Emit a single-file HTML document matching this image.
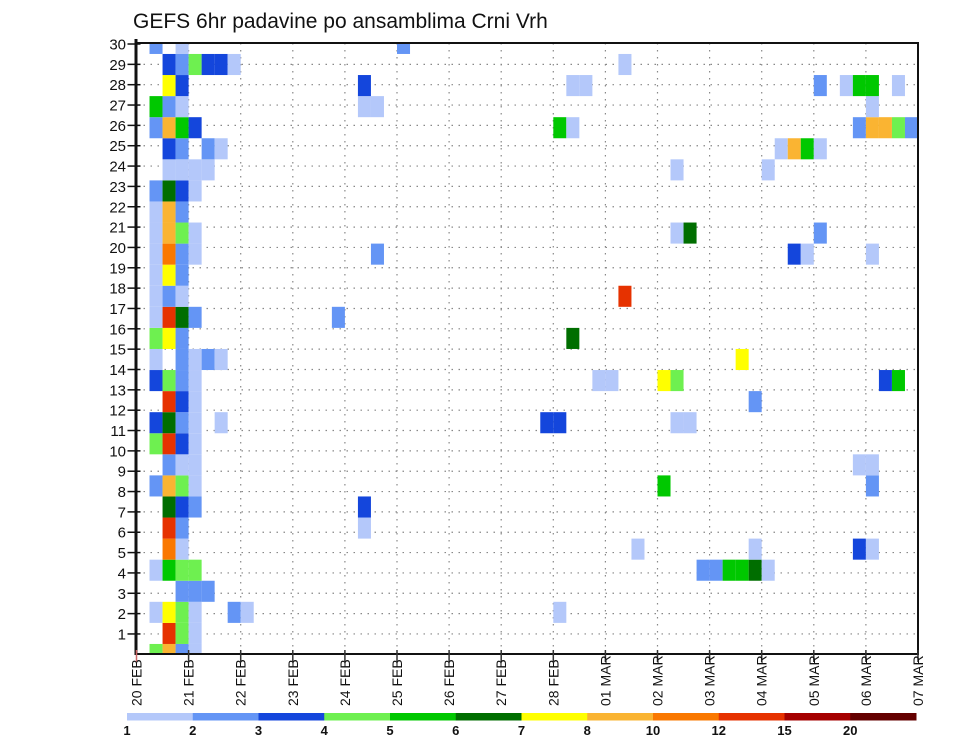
<!DOCTYPE html>
<html><head><meta charset="utf-8">
<style>
html,body{margin:0;padding:0;background:#fff;}
svg{display:block;font-family:"Liberation Sans",sans-serif;}
</style></head>
<body>
<svg id="chart" width="960" height="742" viewBox="0 0 960 742" xmlns="http://www.w3.org/2000/svg">
  <rect x="0" y="0" width="960" height="742" fill="#fff"/>
  <text x="133" y="28" font-size="21" fill="#111">GEFS 6hr padavine po ansamblima Crni Vrh</text>
  <g id="grid"></g>
  <g id="cells"></g>
  <g id="axes"></g>
  <g id="colorbar"></g>
</svg>
<script>
// ---- data ----
const dayLabels = ["20 FEB","21 FEB","22 FEB","23 FEB","24 FEB","25 FEB","26 FEB","27 FEB","28 FEB","01 MAR","02 MAR","03 MAR","04 MAR","05 MAR","06 MAR","07 MAR"];
const yTickLabels = [1,2,3,4,5,6,7,8,9,10,11,12,13,14,15,16,17,18,19,20,21,22,23,24,25,26,27,28,29,30];
const levels = [1,2,3,4,5,6,7,8,10,12,15,20];
const levelColors = ["#b4c8fa","#6495f5","#1446dc","#6ef050","#00c800","#006e00","#ffff00","#fab432","#fa7800","#e63200","#a50000","#640000"];
// member index (bottom=0), 6-hr step index, precip (mm)
const cellMember = [];
const cellStep = [];
const cellValue = [];
const rows = [
 [0,[[1,4.5],[2,9],[3,2.5],[4,1.5]]],
 [1,[[2,13.5],[3,4.5],[4,1.5]]],
 [2,[[1,1.5],[2,7.5],[3,4.5],[4,1.5],[7,2.5],[8,1.5],[32,1.5]]],
 [3,[[3,2.5],[4,2.5],[5,2.5]]],
 [4,[[1,1.5],[2,5.5],[3,4.5],[4,4.5],[43,2.5],[44,2.5],[45,5.5],[46,5.5],[47,6.5],[48,1.5]]],
 [5,[[2,11],[3,1.5],[38,1.5],[47,1.5],[55,3.5],[56,1.5]]],
 [6,[[2,13.5],[3,2.5],[17,1.5]]],
 [7,[[2,6.5],[3,3.5],[4,2.5],[17,3.5]]],
 [8,[[1,2.5],[2,9],[3,4.5],[4,1.5],[40,5.5],[56,2.5]]],
 [9,[[2,2.5],[3,1.5],[4,1.5],[55,1.5],[56,1.5]]],
 [10,[[1,4.5],[2,13.5],[3,3.5],[4,1.5]]],
 [11,[[1,3.5],[2,6.5],[3,2.5],[4,1.5],[6,1.5],[31,3.5],[32,3.5],[41,1.5],[42,1.5]]],
 [12,[[2,13.5],[3,3.5],[4,1.5],[47,2.5]]],
 [13,[[1,3.5],[2,4.5],[3,2.5],[4,1.5],[35,1.5],[36,1.5],[40,7.5],[41,4.5],[57,3.5],[58,5.5]]],
 [14,[[1,1.5],[3,2.5],[4,1.5],[5,2.5],[6,1.5],[46,7.5]]],
 [15,[[1,4.5],[2,7.5],[3,2.5],[33,6.5]]],
 [16,[[1,1.5],[2,13.5],[3,6.5],[4,2.5],[15,2.5]]],
 [17,[[1,1.5],[2,2.5],[3,1.5],[37,13.5]]],
 [18,[[1,1.5],[2,7.5],[3,2.5]]],
 [19,[[1,1.5],[2,11],[3,2.5],[4,1.5],[18,2.5],[50,3.5],[51,1.5],[56,1.5]]],
 [20,[[1,1.5],[2,9],[3,4.5],[4,1.5],[41,1.5],[42,6.5],[52,2.5]]],
 [21,[[1,1.5],[2,9],[3,2.5]]],
 [22,[[1,2.5],[2,6.5],[3,3.5],[4,1.5]]],
 [23,[[2,1.5],[3,1.5],[4,1.5],[5,1.5],[41,1.5],[48,1.5]]],
 [24,[[2,3.5],[3,2.5],[5,2.5],[6,1.5],[49,1.5],[50,9],[51,5.5],[52,1.5]]],
 [25,[[1,2.5],[2,9],[3,5.5],[4,3.5],[32,5.5],[33,1.5],[55,2.5],[56,9],[57,9],[58,4.5],[59,2.5]]],
 [26,[[1,5.5],[2,2.5],[3,1.5],[17,1.5],[18,1.5],[56,1.5]]],
 [27,[[2,7.5],[3,3.5],[17,3.5],[33,1.5],[34,1.5],[52,2.5],[54,1.5],[55,5.5],[56,5.5],[58,1.5]]],
 [28,[[2,3.5],[3,2.5],[4,4.5],[5,3.5],[6,3.5],[7,1.5],[37,1.5]]],
 [29,[[1,2.5],[3,1.5],[20,2.5]]]
];
rows.forEach(r => r[1].forEach(c => { cellMember.push(r[0]); cellStep.push(c[0]); cellValue.push(c[1]); }));

// ---- layout ----
const NS = "http://www.w3.org/2000/svg";
const PL = 136.5, PR = 918, PT = 43, PB = 654;
const dayW = (PR - PL) / 15;
const stepW = dayW / 4;
const xStep = s => PL + s * stepW;
const yLabel = v => 654.3 - v * 20.343;
const bandH = (644 - 54) / 28;
const yMember = m => 654.5 - m * bandH;
function colorFor(v){ let i=0; for(let k=0;k<levels.length;k++){ if(v>=levels[k]) i=k; } return levelColors[i]; }
function mk(tag, attrs, parent){ const e=document.createElementNS(NS,tag); for(const k in attrs) e.setAttribute(k,attrs[k]); parent.appendChild(e); return e; }

const grid = document.getElementById('grid');
const cells = document.getElementById('cells');
const axes = document.getElementById('axes');
const cbar = document.getElementById('colorbar');

// grid
yTickLabels.forEach(v => {
  if (v >= 30) return;
  const l = mk('line',{x1:PL,x2:PR,y1:yLabel(v),y2:yLabel(v),stroke:'#888','stroke-width':1.2,'stroke-dasharray':'1.5 5.5'},grid);
  
  
});
dayLabels.forEach((d,i) => {
  if (i===0 || i===15) return;
  const l = mk('line',{x1:PL+i*dayW,x2:PL+i*dayW,y1:PT,y2:PB,stroke:'#888','stroke-width':1.2,'stroke-dasharray':'1.5 5.5'},grid);
  
  
});

// cells
const clip = mk('clipPath',{id:'plotclip'},document.getElementById('chart'));
mk('rect',{x:PL,y:PT,width:PR-PL,height:PB-PT},clip);
cells.setAttribute('clip-path','url(#plotclip)');
for (let i=0;i<cellValue.length;i++){
  const yc = yMember(cellMember[i]);
  const r = mk('rect',{x:xStep(cellStep[i]),y:yc-bandH/2,width:stepW,height:bandH,fill:colorFor(cellValue[i])},cells);
  
  
}

// frame
const frame = mk('rect',{x:PL,y:PT,width:PR-PL,height:PB-PT,fill:'none',stroke:'#111','stroke-width':2},axes);


const yax = mk('line',{x1:PL-0.5,x2:PL-0.5,y1:PT-4,y2:PB+1,stroke:'#111','stroke-width':3},axes);



// y ticks & labels
yTickLabels.forEach(v => {
  const y = yLabel(v);
  const t = mk('line',{x1:PL-9,x2:PL+4,y1:y,y2:y,stroke:'#111','stroke-width':1.5},axes);
  
  
  const tx = mk('text',{x:126,y:y+5.5,'font-size':15,'text-anchor':'end',fill:'#111'},axes);
  tx.textContent = v;
  
  
});

// x ticks & labels
dayLabels.forEach((d,i) => {
  const x = PL + i*dayW;
  const t = mk('line',{x1:x,x2:x,y1:PB-4,y2:PB+8,stroke:i===0?'#c66':'#333','stroke-width':1.5},axes);
  
  
  const tx = mk('text',{x:0,y:0,'font-size':14,fill:'#111',transform:`translate(${x+5},706) rotate(-90)`},axes);
  tx.textContent = d;
  
  
});

// colorbar
const cbX0 = 127, cbX1 = 916, cbW = (cbX1-cbX0)/levelColors.length;
levelColors.forEach((c,i) => {
  const r = mk('rect',{x:cbX0+i*cbW,y:713,width:cbW+0.5,height:7.5,fill:c},cbar);
  
  
});
levels.forEach((lv,i) => {
  const tx = mk('text',{x:cbX0+i*cbW,y:735,'font-size':13,'font-weight':'bold','text-anchor':'middle',fill:'#111'},cbar);
  tx.textContent = lv;
  
  
});
</script>
</body></html>
